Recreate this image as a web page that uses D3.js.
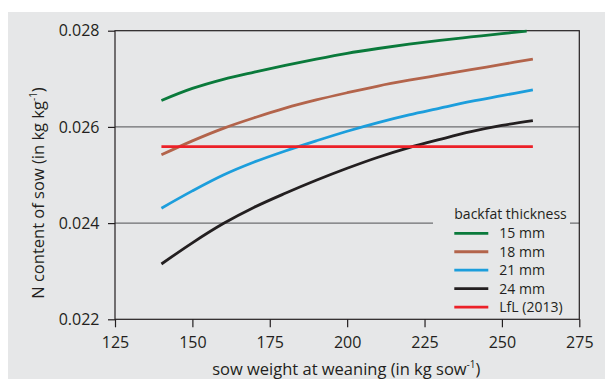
<!DOCTYPE html>
<html>
<head>
<meta charset="utf-8">
<script src="https://cdn.jsdelivr.net/npm/d3@7"></script>
<style>
  html, body { margin: 0; padding: 0; background: #ffffff; }
  svg { display: block; }
  text { font-family: "Open Sans", sans-serif; fill: #231f20; }
</style>
</head>
<body>
<svg id="chart" width="605" height="379"></svg>
<script>
// Sow weight at weaning (kg sow^-1) at which each series is evaluated
const weights = [140, 150, 160, 170, 180, 190, 200, 210, 220, 230, 240, 250, 260];
const weights15 = [140, 150, 160, 170, 180, 190, 200, 210, 220, 230, 240, 250, 258];

// N content of sow (kg kg^-1) by backfat thickness
const n15mm = [0.02655, 0.02680, 0.02699, 0.02714, 0.02728, 0.02741, 0.02753, 0.02763, 0.02772, 0.02780, 0.02787, 0.02794, 0.02799];
const n18mm = [0.02542, 0.02571, 0.02597, 0.02619, 0.02639, 0.02656, 0.02671, 0.02685, 0.02697, 0.02708, 0.02719, 0.02730, 0.02741];
const n21mm = [0.02431, 0.02467, 0.02500, 0.02527, 0.02550, 0.02571, 0.02591, 0.02609, 0.02625, 0.02639, 0.02653, 0.02665, 0.02677];
const n24mm = [0.02315, 0.02359, 0.02399, 0.02433, 0.02462, 0.02489, 0.02514, 0.02537, 0.02557, 0.02574, 0.02590, 0.02603, 0.02613];
// LfL (2013) reference value, constant across weights
const lflWeights = [140, 260];
const lflValues = [0.02559, 0.02559];

const seriesLabels = ["15 mm", "18 mm", "21 mm", "24 mm", "LfL (2013)"];
const seriesColors = ["#0a7a3b", "#b3644b", "#1c9edc", "#231f20", "#ec2128"];

const xTicks = [125, 150, 175, 200, 225, 250, 275];
const yTicks = [0.022, 0.024, 0.026, 0.028];
const legendTitle = "backfat thickness";

const series = [
  { xs: weights15, ys: n15mm },
  { xs: weights, ys: n18mm },
  { xs: weights, ys: n21mm },
  { xs: weights, ys: n24mm },
  { xs: lflWeights, ys: lflValues }
];

const svg = d3.select("#chart");

// grey panel
svg.append("rect")
  .attr("x", 8).attr("y", 12).attr("width", 597).attr("height", 367)
  .attr("fill", "#e6e7e8");

const plot = { left: 115, right: 579.3, top: 30.7, bottom: 319.3 };
const x = d3.scaleLinear().domain([125, 275]).range([plot.left, plot.right]);
const y = d3.scaleLinear().domain([0.022, 0.028]).range([plot.bottom, plot.top]);

// horizontal grid lines
svg.append("g")
  .selectAll("line")
  .data(yTicks.slice(1, -1))
  .join("line")
  .attr("x1", plot.left).attr("x2", plot.right)
  .attr("y1", d => y(d)).attr("y2", d => y(d))
  .attr("stroke", "#6d6e71").attr("stroke-width", 1.2);

// legend backdrop hides the grid line behind it
svg.append("rect")
  .attr("x", 433).attr("y", 203).attr("width", 137).attr("height", 114)
  .attr("fill", "#e6e7e8");

// axes
const yAxis = d3.axisLeft(y).tickValues(yTicks).tickSize(7).tickPadding(8.5)
  .tickFormat(d3.format(".3f"));
const gy = svg.append("g").attr("transform", `translate(${plot.left},0)`).call(yAxis);
gy.select(".domain").remove();
gy.selectAll(".tick line").attr("stroke", "#231f20").attr("stroke-width", 1.2);
gy.selectAll(".tick text").attr("font-size", 16).attr("font-family", "Open Sans, sans-serif").attr("fill", "#231f20");

const xAxis = d3.axisBottom(x).tickValues(xTicks).tickSize(8).tickPadding(9.3)
  .tickFormat(d3.format("d"));
const gx = svg.append("g").attr("transform", `translate(0,${plot.bottom})`).call(xAxis);
gx.select(".domain").remove();
gx.selectAll(".tick line").attr("stroke", "#231f20").attr("stroke-width", 1.2);
gx.selectAll(".tick text").attr("font-size", 16).attr("font-family", "Open Sans, sans-serif").attr("fill", "#231f20");

// frame
svg.append("rect")
  .attr("x", plot.left).attr("y", plot.top)
  .attr("width", plot.right - plot.left).attr("height", plot.bottom - plot.top)
  .attr("fill", "none").attr("stroke", "#231f20").attr("stroke-width", 1.2);

// curves
const line = d3.line()
  .x(d => x(d[0]))
  .y(d => y(d[1]))
  .curve(d3.curveCatmullRom.alpha(0.5));

svg.append("g")
  .selectAll("path")
  .data(series)
  .join("path")
  .attr("d", s => line(s.xs.map((w, i) => [w, s.ys[i]])))
  .attr("fill", "none")
  .attr("stroke", (s, i) => seriesColors[i])
  .attr("stroke-width", 2.8);

// legend
const legend = svg.append("g");
legend.append("text")
  .attr("x", 454.3).attr("y", 219)
  .attr("font-size", 14)
  .text(legendTitle);
const items = legend.selectAll("g.item")
  .data(seriesLabels)
  .join("g")
  .attr("class", "item")
  .attr("transform", (d, i) => `translate(0,${233.3 + i * 18.45})`);
items.append("line")
  .attr("x1", 454.3).attr("x2", 488.3)
  .attr("y1", 0).attr("y2", 0)
  .attr("stroke", (d, i) => seriesColors[i])
  .attr("stroke-width", 2.8);
items.append("text")
  .attr("x", 499.3).attr("y", 5)
  .attr("font-size", 14)
  .text(d => d);

// axis titles
const xTitle = svg.append("text")
  .attr("x", 346.3).attr("y", 375)
  .attr("text-anchor", "middle")
  .attr("font-size", 16.5);
xTitle.append("tspan").text("sow weight at weaning (in kg sow");
xTitle.append("tspan").attr("font-size", 10).attr("dy", -7).text("-1");
xTitle.append("tspan").attr("dy", 7).text(")");

const yTitle = svg.append("text")
  .attr("transform", "translate(44,193) rotate(-90)")
  .attr("text-anchor", "middle")
  .attr("font-size", 16.5);
yTitle.append("tspan").text("N content of sow (in kg kg");
yTitle.append("tspan").attr("font-size", 10).attr("dy", -7).text("-1");
yTitle.append("tspan").attr("dy", 7).text(")");
</script>
</body>
</html>
